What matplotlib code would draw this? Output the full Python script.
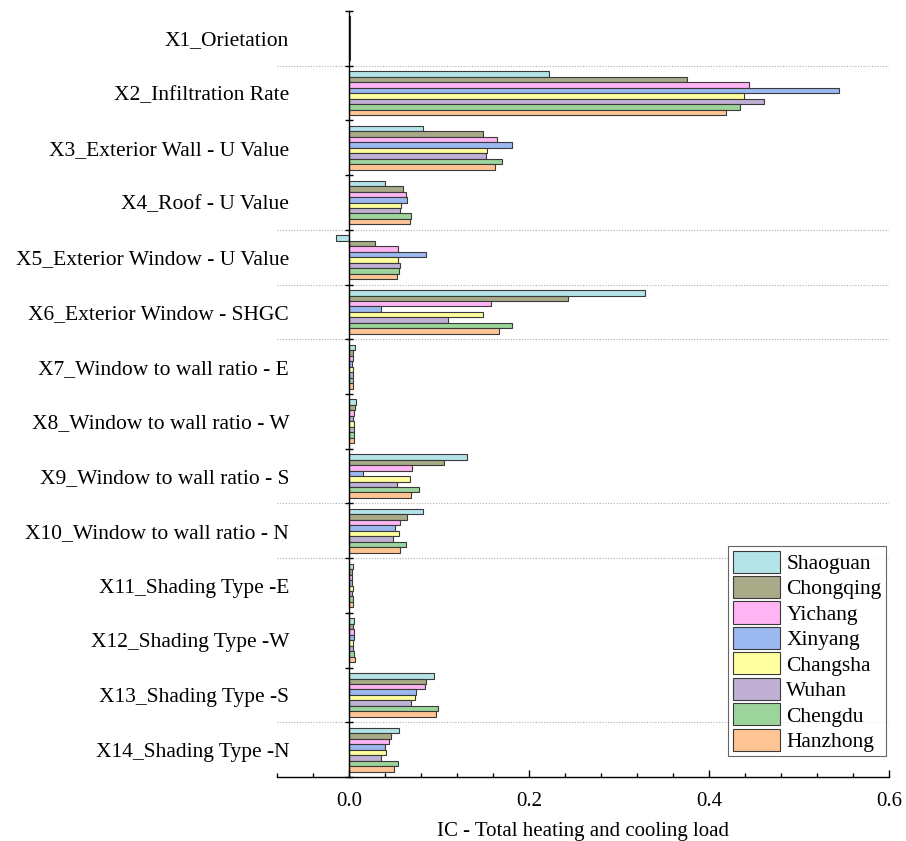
import numpy as np
import matplotlib.pyplot as plt
from matplotlib.ticker import MultipleLocator

plt.rcParams['font.family'] = ['Liberation Serif', 'DejaVu Serif']

factors = ['X1_Orietation', 'X2_Infiltration Rate', 'X3_Exterior Wall - U Value',
           'X4_Roof - U Value', 'X5_Exterior Window - U Value',
           'X6_Exterior Window - SHGC', 'X7_Window to wall ratio - E',
           'X8_Window to wall ratio - W', 'X9_Window to wall ratio - S',
           'X10_Window to wall ratio - N', 'X11_Shading Type -E',
           'X12_Shading Type -W', 'X13_Shading Type -S', 'X14_Shading Type -N']

cities = ['Shaoguan', 'Chongqing', 'Yichang', 'Xinyang', 'Changsha', 'Wuhan',
          'Chengdu', 'Hanzhong']
colors = ['#b4e4e8', '#a8aa88', '#ffb4f4', '#9cb8f0', '#ffffa0', '#c0b0d4',
          '#9cd49c', '#ffc494']

# values per factor (X1..X14) for each city
shaoguan  = [0.001, 0.222, 0.082, 0.040, -0.014, 0.329, 0.007, 0.008, 0.131, 0.082, 0.0045, 0.0055, 0.094, 0.056]
chongqing = [0.001, 0.376, 0.149, 0.060, 0.029, 0.243, 0.0045, 0.0067, 0.106, 0.064, 0.003, 0.0045, 0.086, 0.047]
yichang   = [0.001, 0.444, 0.165, 0.063, 0.055, 0.158, 0.0045, 0.0055, 0.070, 0.057, 0.003, 0.0055, 0.085, 0.045]
xinyang   = [0.001, 0.545, 0.181, 0.064, 0.086, 0.036, 0.003, 0.005, 0.016, 0.051, 0.003, 0.0055, 0.074, 0.040]
changsha  = [0.001, 0.439, 0.153, 0.058, 0.054, 0.149, 0.0045, 0.0055, 0.068, 0.056, 0.0045, 0.0045, 0.073, 0.041]
wuhan     = [0.001, 0.461, 0.152, 0.057, 0.057, 0.110, 0.0045, 0.0055, 0.053, 0.049, 0.003, 0.0045, 0.069, 0.036]
chengdu   = [0.001, 0.435, 0.170, 0.069, 0.056, 0.181, 0.0045, 0.0055, 0.078, 0.063, 0.0045, 0.0055, 0.099, 0.055]
hanzhong  = [0.001, 0.419, 0.162, 0.068, 0.053, 0.167, 0.005, 0.0055, 0.069, 0.057, 0.0045, 0.0067, 0.097, 0.050]
series = [shaoguan, chongqing, yichang, xinyang, changsha, wuhan, chengdu, hanzhong]

# boundaries (after factor index) where the dotted grid shows
grid_after = [0, 3, 4, 5, 8, 9, 12]

fig = plt.figure(figsize=(9.06, 8.41), dpi=100)
ax = fig.add_axes([0.3057, 0.0761, 0.6755, 0.9108])

y = np.arange(len(factors))
h = 0.1
for k, (name, vals, c) in enumerate(zip(cities, series, colors)):
    ax.barh(y + (k - 3.5) * h, vals, height=h, color=c, edgecolor='#3a3a3a',
            linewidth=0.8, label=name)

for i in grid_after:
    ax.axhline(i + 0.5, color='#b0b0b0', lw=0.8, ls=(0, (1, 1.5)), zorder=0)

ax.set_xlim(-0.08, 0.6)
ax.set_ylim(len(factors) - 0.5, -0.5)

ax.spines['top'].set_visible(False)
ax.spines['right'].set_visible(False)
ax.spines['left'].set_position(('data', 0))
ax.spines['left'].set_linewidth(1.0)
ax.spines['bottom'].set_linewidth(1.0)

ax.set_yticks(y)
ax.set_yticklabels(factors, fontsize=15.5)
ax.set_yticks(np.arange(len(factors) + 1) - 0.5, minor=True)
ax.tick_params(axis='y', which='major', length=0, pad=43)
ax.tick_params(axis='y', which='minor', direction='inout', length=6, width=1)

ax.xaxis.set_major_locator(MultipleLocator(0.2))
ax.xaxis.set_minor_locator(MultipleLocator(0.04))
ax.tick_params(axis='x', which='major', direction='in', length=5, width=1,
               labelsize=15, pad=11)
ax.tick_params(axis='x', which='minor', direction='in', length=3, width=1)
ax.xaxis.set_major_formatter(plt.FuncFormatter(lambda v, p: f'{v:.1f}'))
ax.set_xlabel('IC - Total heating and cooling load', fontsize=15, labelpad=8)

leg = ax.legend(loc='lower right', bbox_to_anchor=(0.995, 0.027), fontsize=15.5,
                frameon=True, fancybox=False, edgecolor='#404040',
                handlelength=2.2, handleheight=1.2, handletextpad=0.3,
                labelspacing=0.1, borderpad=0.2, borderaxespad=0)
leg.get_frame().set_linewidth(0.8)

fig.savefig('out.png', dpi=100)
